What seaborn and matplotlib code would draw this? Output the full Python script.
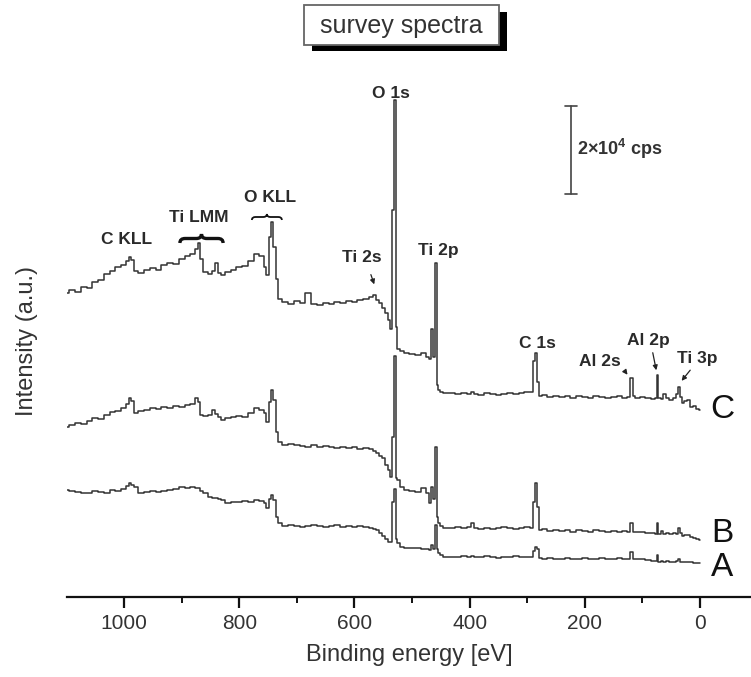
import pandas as pd
import numpy as np
import seaborn as sns
import matplotlib.pyplot as plt
from matplotlib.patches import Rectangle, PathPatch
from matplotlib.path import Path
from matplotlib.ticker import MultipleLocator

# binding energy grid (eV), shared by the three spectra
energy = (
    [1100, 1090, 1080, 1070, 1060, 1050, 1040, 1030, 1020, 1010, 1000]
    + [994, 990, 985, 980, 970, 960, 950, 940, 930, 920, 910, 900, 890, 880]
    + [874, 870, 865, 860, 850, 845, 840, 835, 830, 820, 810, 800, 790, 780, 770, 760]
    + [755, 751, 747, 743, 739, 735, 731]
    + [720, 710, 700, 690, 680, 670, 660, 650, 640, 630, 620, 610, 600, 590, 580, 570, 566, 560, 555, 550, 545, 540]
    + [536, 533, 530, 527, 524, 518, 510, 500, 490, 480, 472, 468, 465, 462, 459, 456, 453, 449, 445, 440]
    + [430, 420, 410, 400, 395, 390, 380, 370, 360, 350, 340, 330, 320, 310, 300, 292]
    + [288, 285, 282, 278, 270, 260, 250, 240, 230, 220, 210, 200, 190, 180, 170, 160, 150, 140, 130, 123]
    + [119, 115, 110, 100, 90, 80, 77, 74, 71, 66, 62, 57, 50, 44, 40, 36, 33, 29, 25, 20, 15, 10, 5, 0]
)

# intensities (a.u., curves offset as in the figure)
spec_C = (
    [304, 307, 305, 310, 309, 315, 317, 323, 326, 330, 332]
    + [336, 340, 337, 326, 324, 327, 329, 327, 332, 334, 333, 338, 341, 343]
    + [348, 354, 338, 325, 323, 326, 334, 324, 322, 325, 327, 330, 331, 336, 343, 341]
    + [330, 322, 360, 375, 350, 318, 298]
    + [295, 293, 296, 294, 304, 293, 292, 294, 293, 295, 294, 296, 295, 297, 298, 300, 302, 297, 294, 289, 284, 277]
    + [268, 387, 497, 270, 248, 246, 244, 243, 242, 244, 240, 238, 268, 240, 334, 212, 207, 205, 204, 204]
    + [204, 203, 204, 203, 205, 203, 202, 204, 203, 202, 203, 204, 203, 204, 205, 205]
    + [236, 244, 215, 201, 202, 200, 201, 200, 201, 199, 201, 200, 199, 201, 200, 199, 200, 201, 199, 200]
    + [219, 201, 199, 200, 199, 198, 199, 222, 199, 198, 203, 199, 197, 199, 203, 210, 200, 194, 196, 197, 190, 191, 188, 187]
)
spec_B = (
    [170, 172, 174, 173, 176, 179, 178, 182, 185, 186, 189]
    + [193, 199, 196, 184, 186, 187, 189, 188, 190, 189, 191, 190, 192, 193]
    + [199, 195, 182, 181, 182, 187, 183, 180, 177, 179, 180, 181, 180, 184, 189, 187]
    + [184, 175, 195, 207, 197, 165, 155]
    + [152, 153, 152, 151, 150, 152, 150, 151, 150, 149, 150, 149, 150, 148, 149, 148, 146, 144, 141, 139, 132, 127]
    + [120, 160, 241, 119, 117, 110, 107, 106, 105, 109, 104, 94, 110, 98, 150, 80, 74, 71, 69, 69]
    + [69, 70, 69, 70, 74, 69, 68, 69, 68, 69, 70, 69, 68, 69, 70, 69]
    + [95, 114, 90, 67, 68, 66, 67, 66, 67, 65, 67, 66, 65, 67, 66, 65, 66, 65, 66, 65]
    + [74, 65, 65, 65, 64, 64, 63, 74, 63, 66, 63, 64, 63, 64, 63, 69, 64, 61, 62, 62, 60, 59, 58, 57]
)
spec_A = (
    [107, 106, 105, 104, 104, 106, 105, 104, 107, 106, 108]
    + [111, 114, 112, 110, 104, 105, 106, 105, 106, 107, 108, 110, 109, 110]
    + [109, 109, 106, 104, 100, 99, 99, 98, 97, 94, 95, 95, 96, 95, 97, 96]
    + [94, 89, 98, 102, 97, 80, 74]
    + [71, 72, 71, 70, 71, 72, 71, 70, 71, 72, 70, 71, 70, 71, 70, 69, 68, 67, 64, 61, 58, 55]
    + [55, 95, 108, 58, 54, 50, 49, 49, 49, 48, 48, 47, 52, 48, 72, 48, 44, 42, 40, 40]
    + [40, 40, 41, 40, 41, 40, 40, 41, 40, 39, 40, 40, 41, 40, 40, 40]
    + [46, 50, 48, 39, 38, 39, 38, 38, 39, 38, 38, 39, 38, 38, 39, 38, 38, 39, 38, 38]
    + [45, 38, 38, 38, 37, 36, 36, 42, 35, 36, 35, 36, 35, 35, 36, 38, 35, 35, 35, 35, 35, 34, 34, 34]
)

samples = ['C', 'B', 'A']
sample_label_y = [187, 64, 29]

peak_labels = ['C KLL', 'Ti LMM', 'O KLL', 'O 1s', 'Ti 2p', 'C 1s']
peak_label_x = [995, 871, 747, 536, 455, 283]
peak_label_y = [357, 379, 400, 503, 346, 254]

arrow_labels = ['Ti 2s', 'Al 2s', 'Al 2p', 'Ti 3p']
arrow_text_xy = [(587, 339), (174, 235), (90, 257), (5, 239)]
arrow_from = [(573, 325), (132, 227), (83, 247), (14, 229)]
arrow_to = [(564, 310), (123, 220), (75, 224), (35, 214)]

df = pd.concat([
    pd.DataFrame({'energy': energy, 'intensity': vals, 'sample': s})
    for s, vals in zip(samples, [spec_C, spec_B, spec_A])
])

sns.set_theme(style="white")
plt.rcParams['font.family'] = ['Liberation Sans', 'DejaVu Sans']
plt.rcParams['mathtext.fontset'] = 'custom'
plt.rcParams['mathtext.rm'] = 'Liberation Sans'
plt.rcParams['mathtext.bf'] = 'Liberation Sans:bold'
ink = '#333333'

fig = plt.figure(figsize=(7.51, 6.77), dpi=100)
ax = fig.add_axes([67 / 751, 80 / 677, 684 / 751, 537 / 677])

sns.lineplot(data=df, x='energy', y='intensity', hue='sample',
             palette=[ink] * 3, legend=False, sort=False, estimator=None,
             drawstyle='steps-mid', linewidth=1.1, ax=ax)

ax.set_xlim(1099, -88.5)
ax.set_ylim(0, 537)
for side in ['top', 'right', 'left']:
    ax.spines[side].set_visible(False)
ax.spines['bottom'].set_linewidth(1.6)
ax.spines['bottom'].set_color('#111111')
ax.set_yticks([])
ax.xaxis.set_major_locator(MultipleLocator(200))
ax.xaxis.set_minor_locator(MultipleLocator(100))
ax.tick_params(axis='x', which='major', direction='out', length=8, width=1.6,
               color='#111111', labelsize=15, labelcolor='#333333', pad=4, bottom=True)
ax.tick_params(axis='x', which='minor', direction='out', length=4, width=1.4,
               color='#111111', bottom=True)

ax.set_xlabel('Binding energy [eV]', fontsize=17, color='#333333')
ax.set_ylabel('Intensity (a.u.)', fontsize=17, color='#333333')
ax.xaxis.set_label_coords(0.5, -0.088)
ax.yaxis.set_label_coords(-0.042, 0.477)

# peak labels
for lab, x, y in zip(peak_labels, peak_label_x, peak_label_y):
    ax.text(x, y, lab, fontsize=12.5, fontweight='bold', color='#2a2a2a', ha='center', va='center')

for lab, (tx, ty), (fx, fy), (ex, ey) in zip(arrow_labels, arrow_text_xy, arrow_from, arrow_to):
    ax.text(tx, ty, lab, fontsize=12.5, fontweight='bold', color='#2a2a2a', ha='center', va='center')
    ax.annotate('', xy=(ex, ey), xytext=(fx, fy),
                arrowprops=dict(arrowstyle='-|>', lw=0.9, color='#222222', mutation_scale=7))

# sample letters
for s, y in zip(samples, sample_label_y):
    ax.text(-38, y, s, fontsize=24, color='#111111', ha='center', va='center')


def brace(ax, x0, x1, y0, h, lw):
    xm = (x0 + x1) / 2
    d = (x1 - x0) * 0.12
    verts = [(x0, y0), (x0, y0 + h / 2), (x0 + d, y0 + h / 2),
             (xm - d, y0 + h / 2), (xm, y0 + h / 2), (xm, y0 + h),
             (xm, y0 + h / 2), (xm + d, y0 + h / 2),
             (x1 - d, y0 + h / 2), (x1, y0 + h / 2), (x1, y0)]
    codes = [Path.MOVETO, Path.CURVE3, Path.CURVE3, Path.LINETO, Path.CURVE3, Path.CURVE3,
             Path.CURVE3, Path.CURVE3, Path.LINETO, Path.CURVE3, Path.CURVE3]
    ax.add_patch(PathPatch(Path(verts, codes), fill=False, lw=lw, color='#111111'))


brace(ax, 903, 828, 354, 9, 2.4)
brace(ax, 778, 726, 377, 6, 1.3)

# scale bar 2x10^4 cps
ax.plot([224, 224], [403, 491], color='#444444', lw=1.2)
ax.plot([235, 213], [491, 491], color='#444444', lw=1.2)
ax.plot([235, 213], [403, 403], color='#444444', lw=1.2)
ax.text(214, 448, r'2×10$\mathbf{^{4}}$ cps', fontsize=13, fontweight='bold',
        color='#333333', ha='left', va='center')

# title box with drop shadow
fig.patches.append(Rectangle((312 / 751, (677 - 51) / 677), 195 / 751, 39 / 677,
                             transform=fig.transFigure, facecolor='black', edgecolor='none', zorder=1))
fig.patches.append(Rectangle((304 / 751, (677 - 45) / 677), 195 / 751, 40 / 677,
                             transform=fig.transFigure, facecolor='white', edgecolor='#666666',
                             lw=1.3, zorder=2))
fig.text(401 / 751, (677 - 26) / 677, 'survey spectra', fontsize=18, color='#333333',
         ha='center', va='center', zorder=3)

fig.savefig('out.png', dpi=100)
